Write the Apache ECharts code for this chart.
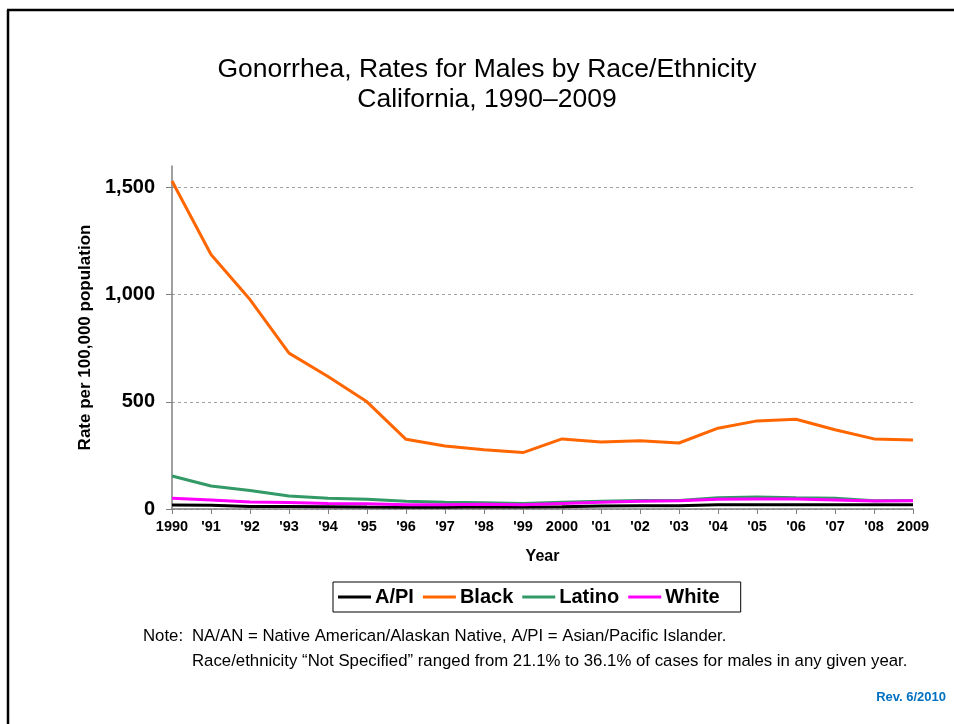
<!DOCTYPE html>
<html>
<head>
<meta charset="utf-8">
<script src="https://cdn.jsdelivr.net/npm/echarts@6/dist/echarts.min.js"></script>
<style>
html,body{margin:0;padding:0;background:#fff;}
#chart{width:954px;height:724px;}
</style>
</head>
<body>
<div id="chart"></div>
<script>
var years = ['1990',"'91","'92","'93","'94","'95","'96","'97","'98","'99",'2000',"'01","'02","'03","'04","'05","'06","'07","'08",'2009'];
var api    = [19,17,12,12,11,9,8,8,11,9,11,14,15,15,20,20,20,20,20,20];
var black  = [1530,1187,977,727,618,500,325,294,276,263,327,313,318,308,377,411,419,370,327,322];
var latino = [154,107,86,61,50,45,36,31,29,26,32,36,40,40,52,56,52,50,38,40];
var white  = [50,42,33,30,26,25,20,20,22,20,26,32,36,38,45,47,47,42,37,39];
var yTicks = [0,500,1000,1500];

var FONT = 'Liberation Sans, Arial, sans-serif';
var chart = echarts.init(document.getElementById('chart'));
function mk(name, data, color){
  return {name:name, type:'line', data:data, symbol:'none', smooth:false,
    lineStyle:{color:color, width:3}, itemStyle:{color:color}};
}
chart.setOption({
  animation:false,
  backgroundColor:'#fff',
  textStyle:{fontFamily:FONT},
  title:{
    text:'Gonorrhea, Rates for Males by Race/Ethnicity\nCalifornia, 1990\u20132009',
    left:482, top:50, textAlign:'center',
    textStyle:{fontFamily:FONT, fontWeight:'normal', fontSize:26.5, color:'#000', lineHeight:30}
  },
  legend:{
    left:333, top:582, padding:[5,21,5,5], itemGap:9, itemWidth:33, itemHeight:3, icon:'rect',
    borderColor:'#000', borderWidth:1,
    textStyle:{fontFamily:FONT, fontWeight:'bold', fontSize:20, color:'#000', padding:[0,0,0,-1]},
    data:['A/PI','Black','Latino','White']
  },
  grid:{left:172, right:41, top:166, bottom:215},
  xAxis:{
    type:'category', data:years, boundaryGap:false,
    name:'Year', nameLocation:'middle', nameGap:40,
    nameTextStyle:{fontFamily:FONT, fontWeight:'bold', fontSize:16, color:'#000'},
    axisLine:{lineStyle:{color:'#808080', width:1.5}},
    axisTick:{show:true, alignWithLabel:true, length:5, lineStyle:{color:'#808080'}},
    axisLabel:{fontFamily:FONT, fontWeight:'bold', fontSize:14.5, color:'#000', margin:10, interval:0}
  },
  yAxis:{
    type:'value', min:0, max:1600, interval:500,
    name:'Rate per 100,000 population', nameLocation:'middle', nameGap:77,
    nameTextStyle:{fontFamily:FONT, fontWeight:'bold', fontSize:17, color:'#000'},
    axisLine:{show:true, lineStyle:{color:'#808080', width:1.5}},
    axisTick:{show:true, length:6, lineStyle:{color:'#808080'}, customValues:yTicks},
    axisLabel:{fontFamily:FONT, fontWeight:'bold', fontSize:20, color:'#000', margin:17, customValues:yTicks,
      formatter:function(v){return v.toLocaleString('en-US');}},
    splitLine:{show:true, lineStyle:{color:'#a0a0a0', type:[3,3], width:1}}
  },
  series:[mk('A/PI',api,'#000000'), mk('Black',black,'#FF6600'), mk('Latino',latino,'#339966'), mk('White',white,'#FF00FF')],
  graphic:[
    {type:'line', shape:{x1:7, y1:10, x2:954, y2:10}, style:{stroke:'#000', lineWidth:2.5}},
    {type:'line', shape:{x1:8, y1:10, x2:8, y2:724}, style:{stroke:'#000', lineWidth:2.5}},
    {type:'text', left:143, top:628, style:{text:'Note:', fontFamily:FONT, fontSize:16.8, fill:'#000'}},
    {type:'text', left:192, top:628, style:{text:'NA/AN = Native American/Alaskan Native, A/PI = Asian/Pacific Islander.', fontFamily:FONT, fontSize:16.8, fill:'#000'}},
    {type:'text', left:192, top:653, style:{text:'Race/ethnicity \u201cNot Specified\u201d ranged from 21.1% to 36.1% of cases for males in any given year.', fontFamily:FONT, fontSize:16.8, fill:'#000'}},
    {type:'text', right:8, top:691, style:{text:'Rev. 6/2010', fontFamily:FONT, fontSize:13, fontWeight:'bold', fill:'#0070C0'}}
  ]
});
</script>
</body>
</html>
